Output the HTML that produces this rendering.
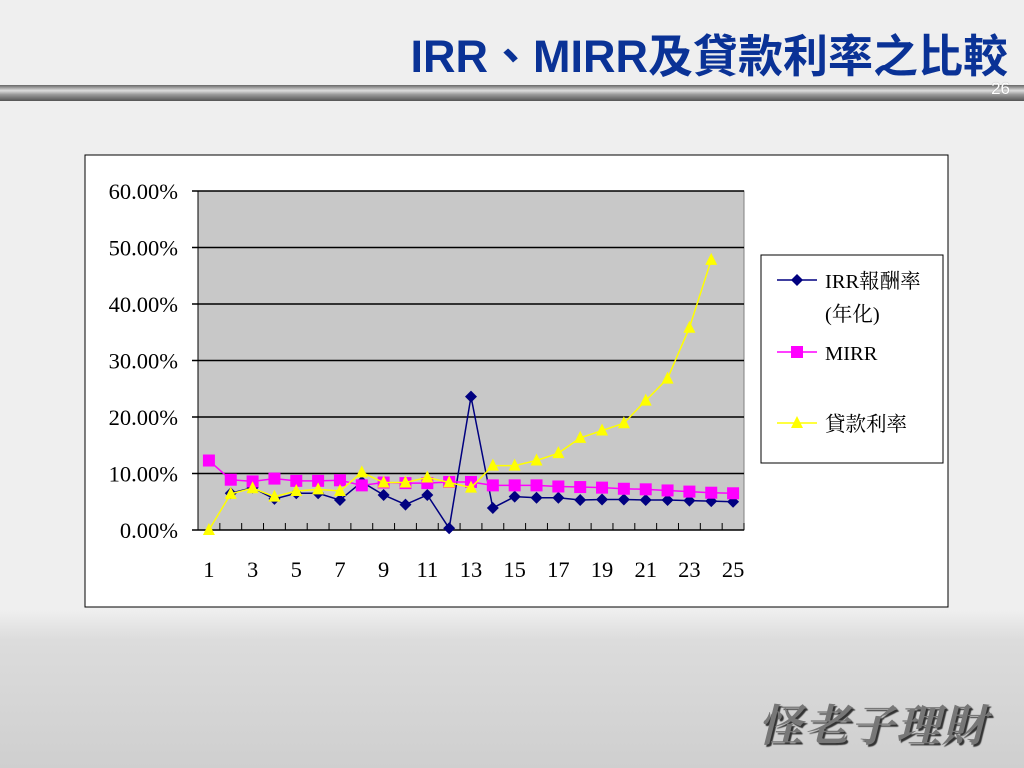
<!DOCTYPE html>
<html><head><meta charset="utf-8"><style>
body{margin:0;width:1024px;height:768px;overflow:hidden;background:linear-gradient(#efefef 0,#efefef 610px,#dcdcdc 640px,#cfcfcf 768px);font-family:"Liberation Serif","Noto Serif CJK SC",serif;position:relative}
.title{position:absolute;right:16px;top:20px;font:bold 45px "Liberation Sans","Noto Sans CJK TC",sans-serif;color:#0a3296;letter-spacing:0px}
.bar{position:absolute;left:0;top:85px;width:1024px;height:16px;background:linear-gradient(#666,#ddd 35%,#999 60%,#555)}
.pg{position:absolute;right:14px;top:79px;color:#fff;font:17px "Liberation Sans",sans-serif;text-shadow:0 0 1px #888}
.logo{position:absolute;right:36px;top:690px;font:italic bold 44px "Noto Serif CJK TC","Noto Sans CJK TC",serif;color:#777;text-shadow:2px 2px 1px #333;letter-spacing:2px}
</style></head><body>
<div class="title">IRR、MIRR及貸款利率之比較</div>
<div class="bar"></div>
<div class="pg">26</div>
<svg width="1024" height="768" style="position:absolute;left:0;top:0" id="c"></svg>
<div class="logo">怪老子理財</div>
<script>
const categories=[1,2,3,4,5,6,7,8,9,10,11,12,13,14,15,16,17,18,19,20,21,22,23,24,25];
const yTicks=[0,10,20,30,40,50,60];
const irr=[null,6.5,7.5,5.5,6.5,6.5,5.3,8.5,6.2,4.5,6.2,0.3,23.6,3.9,5.9,5.7,5.7,5.3,5.4,5.4,5.3,5.3,5.2,5.1,5.0];
const mirr=[12.3,8.9,8.6,9.1,8.7,8.7,8.8,7.9,8.4,8.3,8.3,8.5,8.5,7.9,7.9,7.9,7.7,7.6,7.5,7.3,7.2,7.0,6.8,6.6,6.5];
const loan=[0,6.4,7.4,5.9,6.9,7.2,6.9,10.2,8.4,8.4,9.3,8.4,7.5,11.4,11.4,12.3,13.6,16.3,17.6,18.9,22.9,26.8,35.8,47.8,null];
const NS="http://www.w3.org/2000/svg",svg=document.getElementById('c');
const L=198,R=744,T=191,B=530,step=(R-L)/categories.length;
const x=i=>L+step*(i+0.5), y=v=>B-(v/60)*(B-T);
function mk(t,a,p){const e=document.createElementNS(NS,t);for(const k in a)e.setAttribute(k,a[k]);(p||svg).appendChild(e);return e;}
let e=mk('rect',{x:85,y:155,width:863,height:452,fill:'#fff',stroke:'#000'});

e=mk('rect',{x:L,y:T,width:R-L,height:B-T,fill:'#c8c8c8',stroke:'#808080'});

yTicks.forEach(v=>{
 e=mk('line',{x1:L-6,x2:R,y1:y(v),y2:y(v),stroke:'#000','stroke-width':1.5});
 
 e=mk('text',{x:178,y:y(v)+8,'text-anchor':'end','font-size':22.5});e.textContent=v.toFixed(2)+'%';
 
});
mk('line',{x1:L,x2:L,y1:T,y2:B,stroke:'#000'});
for(let i=0;i<=categories.length;i++){mk('line',{x1:L+step*i,x2:L+step*i,y1:B,y2:B-7,stroke:'#000'});}
categories.forEach((c,i)=>{if(i%2==0){e=mk('text',{x:x(i),y:577,'text-anchor':'middle','font-size':22.5});e.textContent=c;
 }});
function series(d,col,shape,name){
 const g=mk('g',{});
 let pts=[];d.forEach((v,i)=>{if(v!==null)pts.push(x(i)+','+y(v));});
 mk('polyline',{points:pts.join(' '),fill:'none',stroke:col,'stroke-width':1.5},g);
 d.forEach((v,i)=>{if(v===null)return;marker(x(i),y(v),col,shape,g);});
}
function marker(cx,cy,col,shape,g){
 let m;
 if(shape=='d')m=mk('polygon',{points:`${cx},${cy-6} ${cx+6},${cy} ${cx},${cy+6} ${cx-6},${cy}`,fill:col},g);
 else if(shape=='s')m=mk('rect',{x:cx-6,y:cy-6,width:12,height:12,fill:col},g);
 else m=mk('polygon',{points:`${cx},${cy-7} ${cx+6},${cy+5} ${cx-6},${cy+5}`,fill:col},g);
 
}
series(irr,'#000080','d','series-irr');
series(mirr,'#ff00ff','s','series-mirr');
series(loan,'#ffff00','t','series-loan-rate');
e=mk('rect',{x:761,y:255,width:182,height:208,fill:'#fff',stroke:'#000'});

[['IRR報酬率','(年化)',280,'#000080','d'],['MIRR','',352,'#ff00ff','s'],['貸款利率','',423,'#ffff00','t']].forEach(([a,b,yy,col,sh])=>{
 const g=mk('g',{});
 mk('line',{x1:777,x2:817,y1:yy,y2:yy,stroke:col,'stroke-width':1.5},g);marker(797,yy,col,sh,g);
 let t=mk('text',{x:825,y:yy+8,'font-size':20.5},g);t.textContent=a;
 if(b){t=mk('text',{x:825,y:yy+41,'font-size':20.5},g);t.textContent=b;}
});
</script>
</body></html>
